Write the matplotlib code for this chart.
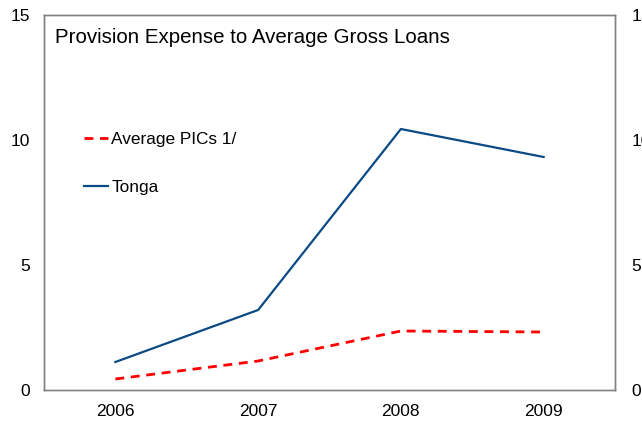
import matplotlib.pyplot as plt

plt.rcParams['font.family'] = ['Liberation Sans', 'DejaVu Sans']

years = ['2006', '2007', '2008', '2009']
pics_avg = [0.44, 1.16, 2.36, 2.32]
tonga = [1.12, 3.2, 10.44, 9.32]
title = 'Provision Expense to Average Gross Loans'

fig = plt.figure(figsize=(6.42, 4.21), dpi=100)
ax = fig.add_axes([44 / 642, 31 / 421, 571 / 642, 375 / 421])

x = range(len(years))
ax.plot(x, pics_avg, color='#ff0000', lw=2.0, dashes=(3.2, 2.4),
        label='Average PICs 1/')
ax.plot(x, tonga, color='#0b4a85', lw=1.6, label='Tonga')

ax.set_xlim(-0.5, len(years) - 0.5)
ax.set_ylim(0, 15)
ax.set_xticks(list(x))
ax.set_xticklabels(years)
ax.set_yticks([0, 5, 10, 15])
ax.tick_params(axis='both', length=0, labelsize=12.5)
ax.tick_params(axis='y', pad=10)
ax.tick_params(axis='x', pad=10)

ax2 = ax.twinx()
ax2.set_ylim(0, 15)
ax2.set_yticks([0, 5, 10, 15])
ax2.tick_params(axis='y', length=0, labelsize=12.5, pad=12)

for a in (ax, ax2):
    for s in a.spines.values():
        s.set_color('#808080')
        s.set_linewidth(1.0)

ax.text(0.019, 0.939, title, transform=ax.transAxes, fontsize=14.8,
        va='center', ha='left')

ax.legend(loc='upper left', bbox_to_anchor=(0.009, 0.78), frameon=False,
          fontsize=12.4, handlelength=1.4, handletextpad=0.22,
          labelspacing=1.9, borderaxespad=1.6)

fig.savefig('out.png', dpi=100)
